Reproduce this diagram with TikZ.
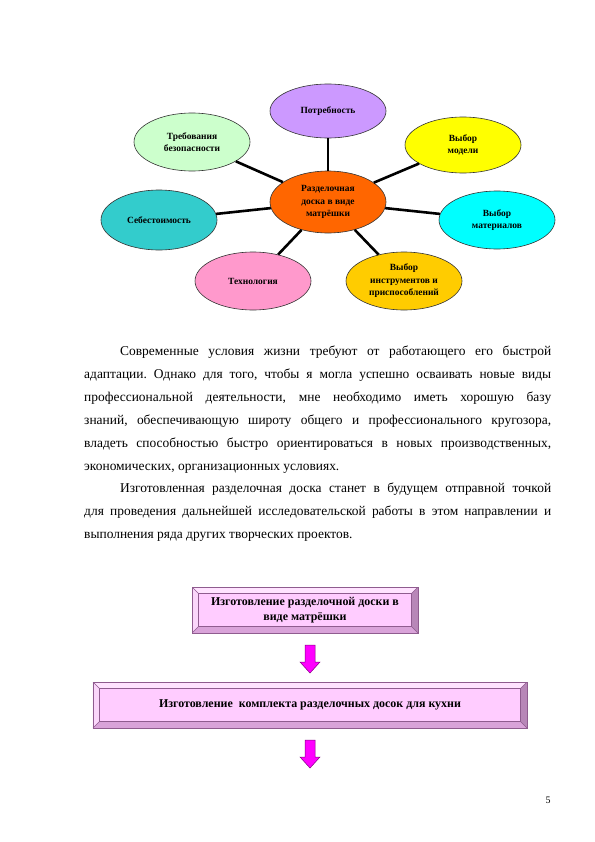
\documentclass[tikz,border=0pt]{standalone}
\usepackage{fontspec}
\setmainfont{Liberation Serif}
\usetikzlibrary{shapes.geometric}
\definecolor{cCenter}{HTML}{FF6600}
\definecolor{cPot}{HTML}{CC99FF}
\definecolor{cTreb}{HTML}{CCFFCC}
\definecolor{cMod}{HTML}{FFFF00}
\definecolor{cSeb}{HTML}{33CCCC}
\definecolor{cMat}{HTML}{00FFFF}
\definecolor{cTech}{HTML}{FF99CC}
\definecolor{cInst}{HTML}{FFCC00}
\definecolor{bevface}{HTML}{FFCCFF}
\definecolor{bevtop}{HTML}{FFE3FF}
\definecolor{bevleft}{HTML}{FAD6FA}
\definecolor{bevbot}{HTML}{D9A3D9}
\definecolor{bevright}{HTML}{B887B8}
\definecolor{bevline}{HTML}{8F5C8F}
\definecolor{arrfill}{HTML}{FF00FF}
\definecolor{arrline}{HTML}{800080}
\frenchspacing
\begin{document}
\begin{tikzpicture}[x=1bp,y=-1bp,
  bub/.style={ellipse, draw=black!80, line width=0.6bp, inner sep=0pt,
    minimum width=116bp, minimum height=58bp, align=center,
    font=\bfseries\fontsize{9.5}{12.5}\selectfont},
  conn/.style={line width=2.6bp, black},
  bevelbox/.style={draw=bevline, line width=0.6bp, fill=bevface, inner sep=0pt,
    align=center, font=\bfseries\fontsize{12}{15}\selectfont,
    path picture={
      \fill[bevtop] (path picture bounding box.north west) -- (path picture bounding box.north east)
        -- ([shift={(-6.5bp,-6.5bp)}]path picture bounding box.north east)
        -- ([shift={(6.5bp,-6.5bp)}]path picture bounding box.north west) -- cycle;
      \fill[bevleft] (path picture bounding box.north west) -- (path picture bounding box.south west)
        -- ([shift={(6.5bp,6.5bp)}]path picture bounding box.south west)
        -- ([shift={(6.5bp,-6.5bp)}]path picture bounding box.north west) -- cycle;
      \fill[bevbot] (path picture bounding box.south west) -- (path picture bounding box.south east)
        -- ([shift={(-6.5bp,6.5bp)}]path picture bounding box.south east)
        -- ([shift={(6.5bp,6.5bp)}]path picture bounding box.south west) -- cycle;
      \fill[bevright] (path picture bounding box.north east) -- (path picture bounding box.south east)
        -- ([shift={(-6.5bp,6.5bp)}]path picture bounding box.south east)
        -- ([shift={(-6.5bp,-6.5bp)}]path picture bounding box.north east) -- cycle;
      \draw[bevline, line width=0.4bp]
        ([shift={(6.5bp,-6.5bp)}]path picture bounding box.north west) rectangle
        ([shift={(-6.5bp,6.5bp)}]path picture bounding box.south east);
      \draw[bevline, line width=0.4bp]
        (path picture bounding box.north west) -- ([shift={(6.5bp,-6.5bp)}]path picture bounding box.north west)
        (path picture bounding box.north east) -- ([shift={(-6.5bp,-6.5bp)}]path picture bounding box.north east)
        (path picture bounding box.south west) -- ([shift={(6.5bp,6.5bp)}]path picture bounding box.south west)
        (path picture bounding box.south east) -- ([shift={(-6.5bp,6.5bp)}]path picture bounding box.south east);
    }},
  para/.style={anchor=north west, inner sep=0pt, text width=467bp, align=justify,
    font=\fontsize{13.5}{23}\selectfont},
  downarrow/.pic={\draw[fill=arrfill, draw=arrline, line width=0.5bp]
    (-5,0) -- (5,0) -- (5,17) -- (10,17) -- (0,28) -- (-10,17) -- (-5,17) -- cycle;}
]
\useasboundingbox[fill=white] (0,0) rectangle (595,842);

% mind map
\node[bub, fill=cCenter, minimum height=62bp] (c) at (328,202) {Разделочная\\доска в виде\\матрёшки};
\node[bub, fill=cPot, minimum height=54bp] (p) at (328,111) {Потребность};
\node[bub, fill=cTreb] (t) at (192,142) {Требования\\безопасности};
\node[bub, fill=cMod, minimum height=56bp] (m) at (463,145) {Выбор\\модели};
\node[bub, fill=cSeb, minimum height=60bp] (s) at (159,220) {Себестоимость};
\node[bub, fill=cMat] (mt) at (497,220) {Выбор\\материалов};
\node[bub, fill=cTech] (th) at (253,281) {Технология};
\node[bub, fill=cInst] (in) at (404,281) {Выбор\\инструментов и\\приспособлений};

\draw[conn] (c) -- (p);
\draw[conn] (c) -- (t);
\draw[conn] (c) -- (m);
\draw[conn] (c) -- (s);
\draw[conn] (c) -- (mt);
\draw[conn] (c) -- (th);
\draw[conn] (c) -- (in);

% text
\tolerance=10000 \hbadness=10000 \hyphenpenalty=10000
\node[para] (tx1) at (84,346) {\hspace*{36bp}Современные условия жизни требуют от работающего его быстрой\linebreak
адаптации. Однако для того, чтобы я могла успешно осваивать новые виды\linebreak
профессиональной деятельности, мне необходимо иметь хорошую базу\linebreak
знаний, обеспечивающую широту общего и профессионального кругозора,\linebreak
владеть способностью быстро ориентироваться в новых производственных,\linebreak
экономических, организационных условиях.};
\node[para] (tx2) at (84,483) {\hspace*{36bp}Изготовленная разделочная доска станет в будущем отправной точкой\linebreak
для проведения дальнейшей исследовательской работы в этом направлении и\linebreak
выполнения ряда других творческих проектов.};

% flow
\node[bevelbox, minimum width=226bp, minimum height=46bp] (b1) at (305,610) {Изготовление разделочной доски в\\виде матрёшки};
\node[bevelbox, minimum width=434bp, minimum height=46bp] (b2) at (310,705) {Изготовление\ \ комплекта разделочных досок для кухни};
\coordinate (a1) at (310,645);
\coordinate (a2) at (310,740);
\pic at (a1) {downarrow};
\pic at (a2) {downarrow};

\node[font=\fontsize{10}{12}\selectfont, inner sep=0pt] (pg) at (548,800) {5};
\end{tikzpicture}
\end{document}
